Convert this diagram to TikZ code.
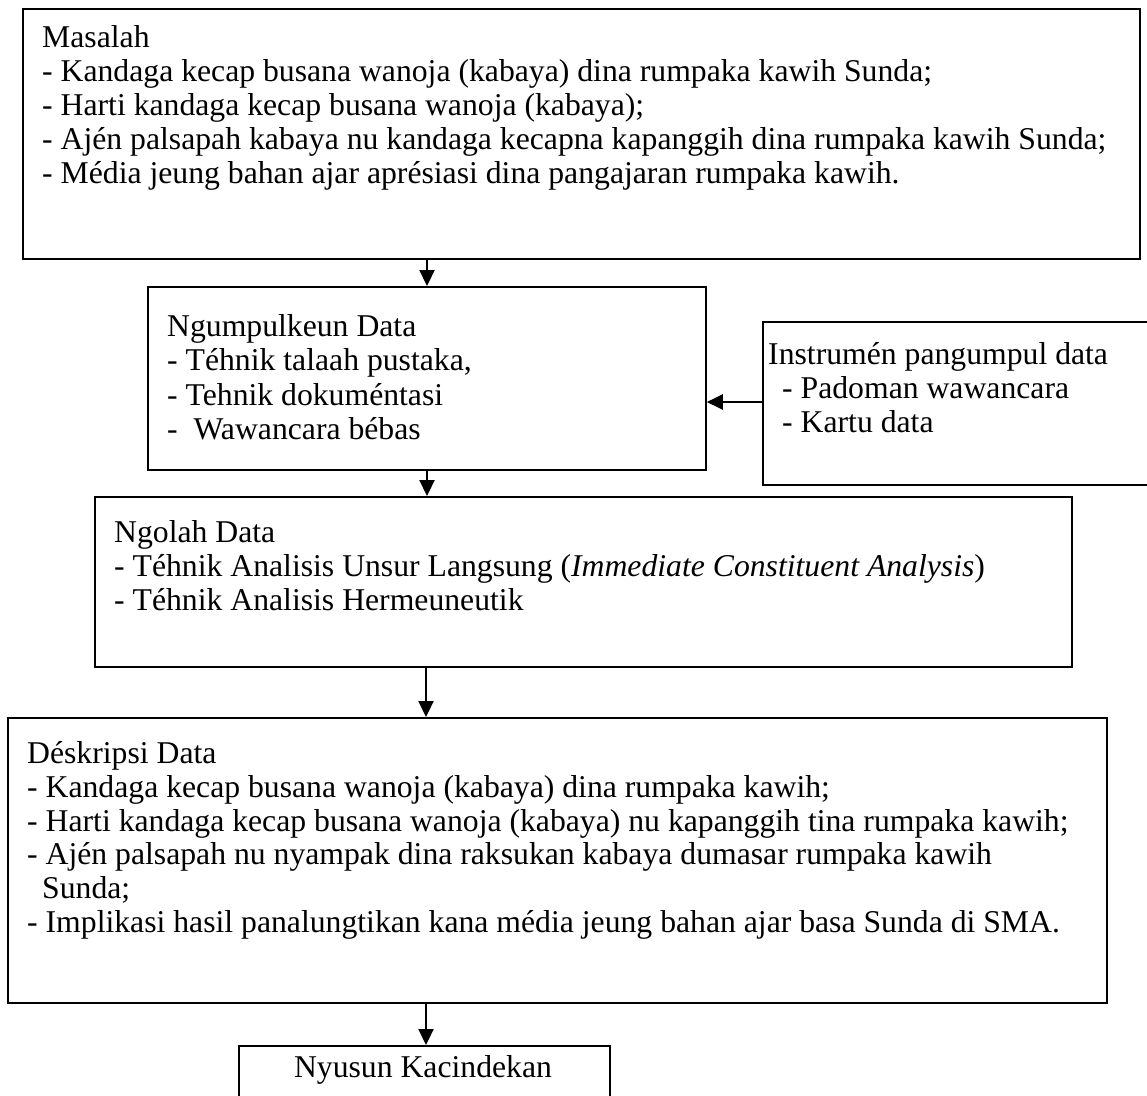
\documentclass[tikz,border=0pt]{standalone}
\usepackage{fontspec}
\setmainfont{Liberation Serif}
\usetikzlibrary{arrows.meta}
\begin{document}
\begin{tikzpicture}[x=1pt,y=-1pt,
  box/.style={draw, line width=1.8pt, inner sep=0pt, anchor=north west},
  ln/.style={anchor=base west, inner sep=0pt, font=\fontsize{31.7}{34}\selectfont},
  arr/.style={line width=2.2pt, -{Triangle[length=16pt,width=15pt]}}]
\useasboundingbox (0,0) rectangle (1147,1095);
\clip (0,0) rectangle (1147,1095);
% boxes
\node[box, minimum width=1117pt, minimum height=250pt] (masalah) at (22,8) {};
\node[box, minimum width=558pt, minimum height=183pt] (ngumpul) at (147,286) {};
\node[box, minimum width=398pt, minimum height=163pt] (instrumen) at (762,321) {};
\node[box, minimum width=977pt, minimum height=170pt] (ngolah) at (94,496) {};
\node[box, minimum width=1099pt, minimum height=285pt] (deskripsi) at (7,717) {};
\node[box, minimum width=371pt, minimum height=80pt] (nyusun) at (238,1045) {};
% texts
\node[ln] (m1) at (42,47) {Masalah};
\node[ln] (m2) at (42,81) {- Kandaga kecap busana wanoja (kabaya) dina rumpaka kawih Sunda;};
\node[ln] (m3) at (42,115) {- Harti kandaga kecap busana wanoja (kabaya);};
\node[ln] (m4) at (42,149) {- Ajén palsapah kabaya nu kandaga kecapna kapanggih dina rumpaka kawih Sunda;};
\node[ln] (m5) at (42,183) {- Média jeung bahan ajar aprésiasi dina pangajaran rumpaka kawih.};
\node[ln] (g1) at (167,336) {Ngumpulkeun Data};
\node[ln] (g2) at (167,370) {- Téhnik talaah pustaka,};
\node[ln] (g3) at (167,405) {- Tehnik dokuméntasi};
\node[ln] (g4) at (167,439) {-\ \ Wawancara bébas};
\node[ln] (i1) at (768,364) {Instrumén pangumpul data};
\node[ln] (i2) at (782,398) {- Padoman wawancara};
\node[ln] (i3) at (782,432) {- Kartu data};
\node[ln] (o1) at (114,542) {Ngolah Data};
\node[ln] (o2) at (114,576) {- Téhnik Analisis Unsur Langsung (\textit{Immediate Constituent Analysis})};
\node[ln] (o3) at (114,610) {- Téhnik Analisis Hermeuneutik};
\node[ln] (d1) at (27,763) {Déskripsi Data};
\node[ln] (d2) at (27,797) {- Kandaga kecap busana wanoja (kabaya) dina rumpaka kawih;};
\node[ln] (d3) at (27,831) {- Harti kandaga kecap busana wanoja (kabaya) nu kapanggih tina rumpaka kawih;};
\node[ln] (d4) at (27,864) {- Ajén palsapah nu nyampak dina raksukan kabaya dumasar rumpaka kawih};
\node[ln] (d5) at (42,898) {Sunda;};
\node[ln] (d6) at (27,932) {- Implikasi hasil panalungtikan kana média jeung bahan ajar basa Sunda di SMA.};
\node[ln, anchor=base] (n1) at (423,1077) {Nyusun Kacindekan};
% connectors
\coordinate (colA) at (427,0);
\coordinate (colB) at (426,0);
\coordinate (rowB) at (0,402);
\draw[arr] (masalah.south -| colA) -- (ngumpul.north -| colA);
\draw[arr] (ngumpul.south -| colA) -- (ngolah.north -| colA);
\draw[arr] (ngolah.south -| colB) -- (deskripsi.north -| colB);
\draw[arr] (deskripsi.south -| colB) -- (nyusun.north -| colB);
\draw[arr] (instrumen.west |- rowB) -- (ngumpul.east |- rowB);
\end{tikzpicture}
\end{document}
